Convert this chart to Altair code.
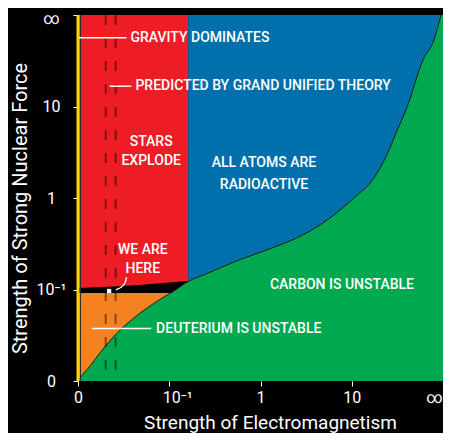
import json
import altair as alt
import pandas as pd

# ---- values (axis-position units 0..4) ----
tick_values = [0, 1, 2, 3, 4]
tick_labels = ["0", "10⁻¹", "1", "10", "∞"]

# upper boundary of the green "carbon is unstable" region
green_x = [0.0, 0.022, 0.130, 0.238, 0.423, 0.672, 0.889, 1.051, 1.214, 1.398, 1.756,
           2.114, 2.407, 2.656, 3.024, 3.241, 3.382, 3.491, 3.599, 3.783, 3.902, 3.978, 4.0]
green_y = [0.0, 0.032, 0.162, 0.303, 0.519, 0.735, 0.886, 0.984, 1.092, 1.168, 1.319,
           1.449, 1.568, 1.708, 2.0, 2.216, 2.465, 2.724, 2.973, 3.514, 3.730, 4.0, 4.0]

# lower edge of the red "stars explode" region
red_x = [0.0, 0.672, 1.207]
red_y = [1.016, 1.049, 1.092]

em_boundary = 1.207    # red / blue boundary
deut_top = 0.962       # top of orange "deuterium unstable" region
dash_x = [0.3035, 0.412]
here_x, here_y = 0.341, 0.984
arrow_x = [0.531, 0.522, 0.480, 0.415]
arrow_y = [1.135, 1.075, 1.022, 0.996]

left_labels = ["GRAVITY DOMINATES", "PREDICTED BY GRAND UNIFIED THEORY",
               "CARBON IS UNSTABLE", "DEUTERIUM IS UNSTABLE"]
left_x = [0.575, 0.629, 2.103, 0.856]
left_y = [3.751, 3.222, 1.049, 0.573]

center_labels = ["STARS", "EXPLODE", "ALL ATOMS ARE", "RADIOACTIVE", "WE ARE", "HERE"]
center_x = [0.802, 0.802, 2.038, 2.038, 0.710, 0.710]
center_y = [2.616, 2.400, 2.378, 2.141, 1.427, 1.222]

leader_x1 = [0.011, 0.347, 0.152]
leader_x2 = [0.531, 0.585, 0.802]
leader_y = [3.751, 3.222, 0.573]

RED, BLUE, GREEN, ORANGE, YELLOW = "#EE1D25", "#0070AD", "#00A94F", "#F58220", "#FFD200"
FONT = "Roboto"

sx = alt.Scale(domain=[0, 4], nice=False, zero=False)
sy = alt.Scale(domain=[0, 4], nice=False, zero=False)
label_expr = json.dumps(tick_labels, ensure_ascii=False) + "[datum.value]"

x_axis = alt.Axis(values=tick_values, labelExpr=label_expr, grid=False, domain=False,
                  tickColor="white", tickSize=5, labelColor="white", labelFont=FONT,
                  labelFontSize=16, labelPadding=3, labelFlush=False, labelOverlap=False,
                  labelOffset={"expr": "datum.value == 1 ? 8 : (datum.value == 4 ? -9 : 0)"},
                  title="Strength of Electromagnetism", titleColor="white", titleFont=FONT,
                  titleFontSize=19, titleFontWeight="normal", titleX=192, titleY=47,
                  titleBaseline="alphabetic")
y_axis = alt.Axis(values=tick_values, labelExpr=label_expr, grid=False, domain=False,
                  tickColor="white", tickSize=5, labelColor="white", labelFont=FONT,
                  labelFontSize=16, labelPadding=22, labelAlign="center", labelBaseline="middle",
                  labelFlush=False, labelOverlap=False,
                  labelOffset={"expr": "datum.value == 4 ? 3 : 0"},
                  title="Strength of Strong Nuclear Force", titleColor="white", titleFont=FONT,
                  titleFontSize=20, titleFontWeight="normal", titleAngle=270, titleX=-52,
                  titleY=193, titleBaseline="alphabetic")


def X(field):
    return alt.X(field, type="quantitative", scale=sx, axis=x_axis)


def Y(field):
    return alt.Y(field, type="quantitative", scale=sy, axis=y_axis)


blue = alt.Chart(pd.DataFrame({"x": [em_boundary], "x2": [4], "y": [0], "y2": [4]})).mark_rect(
    color=BLUE).encode(x=X("x"), x2="x2:Q", y=Y("y"), y2="y2:Q")

red = alt.Chart(pd.DataFrame({"x": red_x, "y": red_y, "top": [4] * len(red_x)})).mark_area(
    color=RED, interpolate="monotone").encode(x=X("x"), y=Y("top"), y2="y:Q")

orange = alt.Chart(pd.DataFrame({"x": [0], "x2": [em_boundary], "y": [0], "y2": [deut_top]})).mark_rect(
    color=ORANGE).encode(x=X("x"), x2="x2:Q", y=Y("y"), y2="y2:Q")

gdf = pd.DataFrame({"x": green_x, "y": green_y, "base": [0] * len(green_x)})
green = alt.Chart(gdf).mark_area(color=GREEN, interpolate="monotone").encode(
    x=X("x"), y=Y("y"), y2="base:Q")
green_edge = alt.Chart(gdf.iloc[:-1]).mark_line(color="#1a1a1a", strokeWidth=1,
                                                interpolate="monotone").encode(x=X("x"), y=Y("y"))

dashes = alt.Chart(pd.DataFrame({"x": dash_x})).mark_rule(
    color="black", opacity=0.45, strokeWidth=2, strokeDash=[10, 13]).encode(x=X("x"))

ydf = pd.DataFrame({"x": [0]})
yellow = alt.Chart(ydf).mark_rule(color=YELLOW, strokeWidth=3).encode(x=X("x"))
yellow_edge = alt.Chart(ydf).mark_rule(color="#2a2a2a", strokeWidth=1, xOffset=2.5).encode(x=X("x"))

leaders = alt.Chart(pd.DataFrame({"x": leader_x1, "x2": leader_x2, "y": leader_y})).mark_rule(
    color="white", strokeWidth=1.5).encode(x=X("x"), x2="x2:Q", y=Y("y"))

arrow = alt.Chart(pd.DataFrame({"x": arrow_x, "y": arrow_y, "o": list(range(len(arrow_x)))})).mark_line(
    color="white", strokeWidth=1.3, interpolate="basis").encode(x=X("x"), y=Y("y"), order="o:Q")

here = alt.Chart(pd.DataFrame({"x": [here_x], "y": [here_y]})).mark_square(
    color="white", opacity=1, size=18).encode(x=X("x"), y=Y("y"))

ltext = alt.Chart(pd.DataFrame({"x": left_x, "y": left_y, "t": left_labels})).mark_text(
    align="left", baseline="middle", color="white", font=FONT, fontSize=14, fontWeight=500).encode(
    x=X("x"), y=Y("y"), text="t:N")
ctext = alt.Chart(pd.DataFrame({"x": center_x, "y": center_y, "t": center_labels})).mark_text(
    align="center", baseline="middle", color="white", font=FONT, fontSize=14, fontWeight=500).encode(
    x=X("x"), y=Y("y"), text="t:N")

chart = alt.layer(blue, red, orange, green, green_edge, dashes, yellow, yellow_edge,
                  leaders, arrow, here, ltext, ctext).properties(
    width=365, height=366,
    autosize=alt.AutoSizeParams(type="none"),
    padding={"left": 70, "top": 7, "right": 0, "bottom": 52},
).configure(background="black").configure_view(stroke=None)

chart.save("out.html", embed_options={"renderer": "svg", "actions": False})
